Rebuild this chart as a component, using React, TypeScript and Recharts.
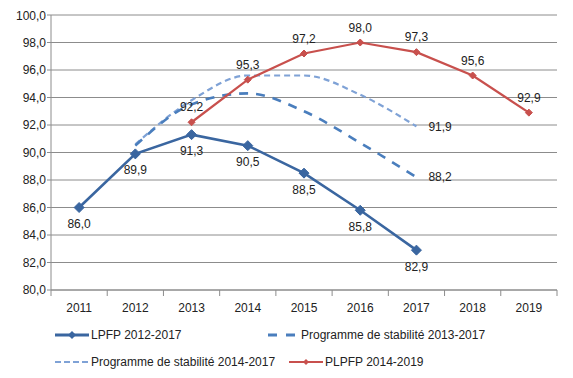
import { CartesianGrid, LabelList, Line, LineChart, XAxis, YAxis } from "recharts";

const years = ["2011", "2012", "2013", "2014", "2015", "2016", "2017", "2018", "2019"];
const lpfp = [86.0, 89.9, 91.3, 90.5, 88.5, 85.8, 82.9, null, null];
const ps2013 = [null, 90.5, 93.5, 94.3, 93.0, 90.7, 88.2, null, null];
const ps2014 = [null, 90.6, 93.8, 95.6, 95.6, 94.2, 91.9, null, null];
const plpfp = [null, null, 92.2, 95.3, 97.2, 98.0, 97.3, 95.6, 92.9];
const yTicks = [80, 82, 84, 86, 88, 90, 92, 94, 96, 98, 100];

const seriesNames = [
  "LPFP 2012-2017",
  "Programme de stabilité 2013-2017",
  "Programme de stabilité 2014-2017",
  "PLPFP 2014-2019",
];

const data = years.map((year, i) => ({
  year,
  lpfp: lpfp[i],
  ps2013: ps2013[i],
  ps2014: ps2014[i],
  plpfp: plpfp[i],
}));

const FONT = "'Liberation Sans', Arial, sans-serif";
const GRID = "#8c8c8c";
const C_LPFP = "#3a66a0";
const C_PS13 = "#4a7ebd";
const C_PS14 = "#7fa2d6";
const C_PL = "#c8504d";

const fmt = (v: number) => v.toFixed(1).replace(".", ",");

const Diamond = (size: number, color: string) => (props: any) => {
  const { cx, cy, index } = props;
  if (cx == null || cy == null || props.value == null) return <g key={`d-${index}`} />;
  return (
    <path
      key={`d-${index}`}
      d={`M${cx},${cy - size} L${cx + size},${cy} L${cx},${cy + size} L${cx - size},${cy} Z`}
      fill={color}
      stroke={color}
    />
  );
};

// plot is 506px wide, 9 categories
const BAND = 506 / 9;

const XTick = (props: any) => {
  const { x, y, payload, index } = props;
  return (
    <g>
      <line x1={x - BAND / 2} x2={x - BAND / 2} y1={y - 8} y2={y - 2} stroke={GRID} />
      {index === years.length - 1 && (
        <line x1={x + BAND / 2} x2={x + BAND / 2} y1={y - 8} y2={y - 2} stroke={GRID} />
      )}
      <text x={x} y={y + 5} dy="0.71em" textAnchor="middle" fill="#222" fontSize={12} fontFamily={FONT}>
        {payload.value}
      </text>
    </g>
  );
};

const endLabel = (props: any) => {
  const { x, y, value, index } = props;
  if (index !== 6 || value == null) return null;
  return (
    <text x={x + 12} y={y} dy="0.35em" fill="#222" fontSize={12} fontFamily={FONT}>
      {fmt(value)}
    </text>
  );
};

const LegendIcon = ({ kind }: { kind: number }) => {
  if (kind === 0)
    return (
      <svg width={34} height={10}>
        <line x1={0} x2={34} y1={5} y2={5} stroke={C_LPFP} strokeWidth={3} />
        <path d="M17,1 L21,5 L17,9 L13,5 Z" fill={C_LPFP} />
      </svg>
    );
  if (kind === 1)
    return (
      <svg width={34} height={10}>
        <line x1={3} x2={31} y1={5} y2={5} stroke={C_PS13} strokeWidth={3} strokeDasharray="9 9" />
      </svg>
    );
  if (kind === 2)
    return (
      <svg width={34} height={10}>
        <line x1={0} x2={34} y1={5} y2={5} stroke={C_PS14} strokeWidth={2} strokeDasharray="6 3" />
      </svg>
    );
  return (
    <svg width={34} height={10}>
      <line x1={0} x2={34} y1={5} y2={5} stroke={C_PL} strokeWidth={2} />
      <path d="M17,2 L20,5 L17,8 L14,5 Z" fill={C_PL} />
    </svg>
  );
};

const legendPos = [
  { left: 47, top: 320 },
  { left: 257, top: 320 },
  { left: 47, top: 347 },
  { left: 281, top: 347 },
];

export default function App() {
  return (
    <div style={{ position: "relative", width: 565, height: 370, fontFamily: FONT }}>
      <LineChart width={565} height={310} data={data} margin={{ top: 7, right: 16, left: 0, bottom: 0 }}>
        <CartesianGrid vertical={false} stroke={GRID} />
        <XAxis
          dataKey="year"
          height={28}
          axisLine={{ stroke: GRID }}
          tickLine={false}
          tickSize={6}
          tickMargin={2}
          interval={0}
          padding={{ left: BAND / 2, right: BAND / 2 }}
          tick={<XTick />}
        />
        <YAxis
          width={43}
          domain={[80, 100]}
          ticks={yTicks}
          tickFormatter={fmt}
          axisLine={{ stroke: GRID }}
          tickLine={{ stroke: GRID }}
          tickSize={4}
          tickMargin={1}
          tick={{ fill: "#222", fontSize: 12, fontFamily: FONT }}
        />
        <Line
          dataKey="ps2014"
          type="monotone"
          stroke={C_PS14}
          strokeWidth={2.2}
          strokeDasharray="6 4"
          dot={false}
          activeDot={false}
          isAnimationActive={false}
        >
          <LabelList dataKey="ps2014" content={endLabel} />
        </Line>
        <Line
          dataKey="ps2013"
          type="monotone"
          stroke={C_PS13}
          strokeWidth={2.6}
          strokeDasharray="9 8"
          dot={false}
          activeDot={false}
          isAnimationActive={false}
        >
          <LabelList dataKey="ps2013" content={endLabel} />
        </Line>
        <Line
          dataKey="lpfp"
          type="linear"
          stroke={C_LPFP}
          strokeWidth={2.6}
          dot={Diamond(5, C_LPFP)}
          activeDot={false}
          isAnimationActive={false}
        >
          <LabelList
            dataKey="lpfp"
            position="bottom"
            offset={12}
            formatter={(v: any) => (v == null ? "" : fmt(v))}
            style={{ fill: "#222", fontSize: 12, fontFamily: FONT }}
          />
        </Line>
        <Line
          dataKey="plpfp"
          type="linear"
          stroke={C_PL}
          strokeWidth={2.2}
          dot={Diamond(3.5, C_PL)}
          activeDot={false}
          isAnimationActive={false}
        >
          <LabelList
            dataKey="plpfp"
            position="top"
            offset={11}
            formatter={(v: any) => (v == null ? "" : fmt(v))}
            style={{ fill: "#222", fontSize: 12, fontFamily: FONT }}
          />
        </Line>
      </LineChart>
      {seriesNames.map((name, i) => (
        <div
          key={name}
          style={{
            position: "absolute",
            left: legendPos[i].left,
            top: legendPos[i].top,
            display: "flex",
            alignItems: "center",
            fontSize: 12,
            color: "#222",
            whiteSpace: "nowrap",
          }}
        >
          <LegendIcon kind={i} />
          <span style={{ marginLeft: 2 }}>{name}</span>
        </div>
      ))}
    </div>
  );
}
